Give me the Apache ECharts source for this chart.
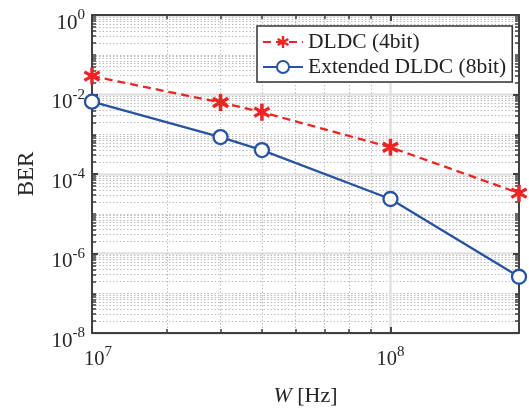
<!DOCTYPE html>
<html>
<head>
<meta charset="utf-8">
<script src="https://cdn.jsdelivr.net/npm/echarts@6/dist/echarts.min.js"></script>
<style>
  html, body { margin: 0; padding: 0; background: #fff; }
  #main { width: 529px; height: 412px; }
</style>
</head>
<body>
<div id="main"></div>
<script>
// data
var bandwidth = [2e7, 4e7, 5e7, 1e8, 2e8];
var berDLDC4 = [2.9e-2, 6.3e-3, 3.6e-3, 4.7e-4, 3.3e-5];
var berExt8 = [6.6e-3, 8.5e-4, 4.0e-4, 2.35e-5, 2.6e-7];

// tick values / labels
var xLabelValues = [2e7, 1e8];
var xLabelExps = ['7', '8'];
var xMajorTicks = [1e8];
var xMinorTicks = [3e7, 4e7, 5e7, 6e7, 7e7, 8e7, 9e7];
var yMajorTicks = [1, 1e-2, 1e-4, 1e-6, 1e-8];
var yMajorExps = ['0', '-2', '-4', '-6', '-8'];
var yMinorTicks = [];
for (var d = -8; d < 0; d++) {
    for (var k = 1; k <= 9; k++) {
        if (k === 1 && d % 2 === 0) continue;   // major ones
        yMinorTicks.push(k * Math.pow(10, d));
    }
}

var FONT = 'Liberation Serif';
var TXT = '#262626';
var AXC = '#404040';

var starPath = 'path://M-0.2 -1L0.2 -1L0.2 1L-0.2 1Z' +
    'M0.766 -0.673L0.966 -0.327L-0.766 0.673L-0.966 0.327Z' +
    'M-0.966 -0.327L-0.766 -0.673L0.966 0.327L0.766 0.673Z';

var richX = {
    b: {fontFamily: FONT, fontSize: 20.5, color: TXT, lineHeight: 30},
    bl: {fontFamily: FONT, fontSize: 20.5, color: TXT, lineHeight: 30, padding: [0, 0, 0, 12]},
    s: {fontFamily: FONT, fontSize: 15, color: TXT, verticalAlign: 'top', lineHeight: 17}
};
var richY = {
    b: {fontFamily: FONT, fontSize: 21, color: TXT, lineHeight: 30},
    s: {fontFamily: FONT, fontSize: 15, color: TXT, verticalAlign: 'top', lineHeight: 17}
};

function logAxisBase(extra) {
    var a = {
        type: 'log',
        logBase: 10,
        axisLine: {show: false},
        axisLabel: {show: false},
        axisTick: {show: false},
        splitLine: {show: false},
        minorTick: {show: false},
        minorSplitLine: {show: false}
    };
    for (var key in extra) a[key] = extra[key];
    return a;
}

var xRange = {min: 2e7, max: 2e8};
var yRange = {min: 1e-8, max: 1};

function xAx(extra) { var o = logAxisBase(extra); o.min = xRange.min; o.max = xRange.max; return o; }
function yAx(extra) { var o = logAxisBase(extra); o.min = yRange.min; o.max = yRange.max; return o; }

var chart = echarts.init(document.getElementById('main'));

var option = {
    backgroundColor: '#fff',
    animation: false,
    grid: {left: 92, right: 10, top: 15, bottom: 79, containLabel: false},
    legend: {
        orient: 'vertical',
        left: 257,
        top: 26,
        padding: [5, 6, 4, 5],
        itemGap: 3,
        itemWidth: 40,
        itemHeight: 15,
        backgroundColor: '#fff',
        borderColor: '#333',
        borderWidth: 1.5,
        borderRadius: 0,
        textStyle: {fontFamily: FONT, fontSize: 21.5, color: '#222', lineHeight: 22},
        data: ['DLDC (4bit)', 'Extended DLDC (8bit)']
    },
    xAxis: [
        xAx({
            position: 'bottom',
            name: '{i|W} [Hz]',
            nameLocation: 'middle',
            nameGap: 52,
            nameTextStyle: {
                fontFamily: FONT, fontSize: 22, color: TXT,
                rich: {i: {fontFamily: FONT, fontSize: 22, color: TXT, fontStyle: 'italic'}}
            },
            axisLine: {show: true, lineStyle: {color: AXC, width: 2}},
            axisTick: {show: true, inside: true, length: 6, customValues: xMajorTicks, lineStyle: {color: AXC, width: 2}},
            axisLabel: {
                show: true, margin: 12, customValues: xLabelValues,
                formatter: function (v) {
                    var i = 0;
                    for (var j = 0; j < xLabelValues.length; j++) {
                        if (Math.abs(Math.log10(v) - Math.log10(xLabelValues[j])) < 1e-6) i = j;
                    }
                    return (i === 0 ? '{bl|10}' : '{b|10}') + '{s|' + xLabelExps[i] + '}';
                },
                rich: richX
            },
            splitLine: {show: true, lineStyle: {color: '#e0e0e0', width: 2.5}}
        }),
        xAx({
            position: 'bottom',
            axisTick: {show: true, inside: true, length: 4, customValues: xMinorTicks, lineStyle: {color: AXC, width: 1.5}},
            splitLine: {show: true, lineStyle: {color: '#bdbdbd', width: 1, type: [1.5, 2]}}
        }),
        xAx({
            position: 'top',
            axisLine: {show: true, lineStyle: {color: AXC, width: 2}},
            axisTick: {show: true, inside: true, length: 6, customValues: xMajorTicks, lineStyle: {color: AXC, width: 2}}
        }),
        xAx({
            position: 'top',
            axisTick: {show: true, inside: true, length: 4, customValues: xMinorTicks, lineStyle: {color: AXC, width: 1.5}}
        })
    ],
    yAxis: [
        yAx({
            position: 'left',
            name: 'BER',
            nameLocation: 'middle',
            nameRotate: 90,
            nameGap: 54,
            nameTextStyle: {fontFamily: FONT, fontSize: 23, color: TXT},
            axisLine: {show: true, lineStyle: {color: AXC, width: 2}},
            axisTick: {show: true, inside: true, length: 6, customValues: yMajorTicks, lineStyle: {color: AXC, width: 2}},
            axisLabel: {
                show: true, margin: 7, customValues: yMajorTicks,
                padding: [16, 0, 0, 0],
                formatter: function (v) {
                    var i = 0;
                    for (var j = 0; j < yMajorTicks.length; j++) {
                        if (Math.abs(Math.log10(v) - Math.log10(yMajorTicks[j])) < 1e-6) i = j;
                    }
                    return '{b|10}{s|' + yMajorExps[i] + '}';
                },
                rich: richY
            },
            splitLine: {show: true, lineStyle: {color: '#e0e0e0', width: 2.5}}
        }),
        yAx({
            position: 'left',
            axisTick: {show: true, inside: true, length: 4, customValues: yMinorTicks, lineStyle: {color: AXC, width: 1.5}},
            splitLine: {show: true, lineStyle: {color: '#bdbdbd', width: 1, type: [1.5, 2]}}
        }),
        yAx({
            position: 'right',
            axisLine: {show: true, lineStyle: {color: AXC, width: 2}},
            axisTick: {show: true, inside: true, length: 6, customValues: yMajorTicks, lineStyle: {color: AXC, width: 2}}
        }),
        yAx({
            position: 'right',
            axisTick: {show: true, inside: true, length: 4, customValues: yMinorTicks, lineStyle: {color: AXC, width: 1.5}}
        })
    ],
    series: [
        {
            name: 'DLDC (4bit)',
            type: 'line',
            xAxisIndex: 0,
            yAxisIndex: 0,
            data: bandwidth.map(function (x, i) { return [x, berDLDC4[i]]; }),
            symbol: starPath,
            symbolSize: 17,
            lineStyle: {color: '#ee2424', width: 2.3, type: [8, 5]},
            itemStyle: {color: '#ee2424', borderWidth: 0},
            z: 3
        },
        {
            name: 'Extended DLDC (8bit)',
            type: 'line',
            xAxisIndex: 0,
            yAxisIndex: 0,
            data: bandwidth.map(function (x, i) { return [x, berExt8[i]]; }),
            symbol: 'circle',
            symbolSize: 14,
            lineStyle: {color: '#2852a2', width: 2.3},
            itemStyle: {color: '#fff', borderColor: '#2852a2', borderWidth: 2.3},
            z: 4
        }
    ]
};

chart.setOption(option);
</script>
</body>
</html>
